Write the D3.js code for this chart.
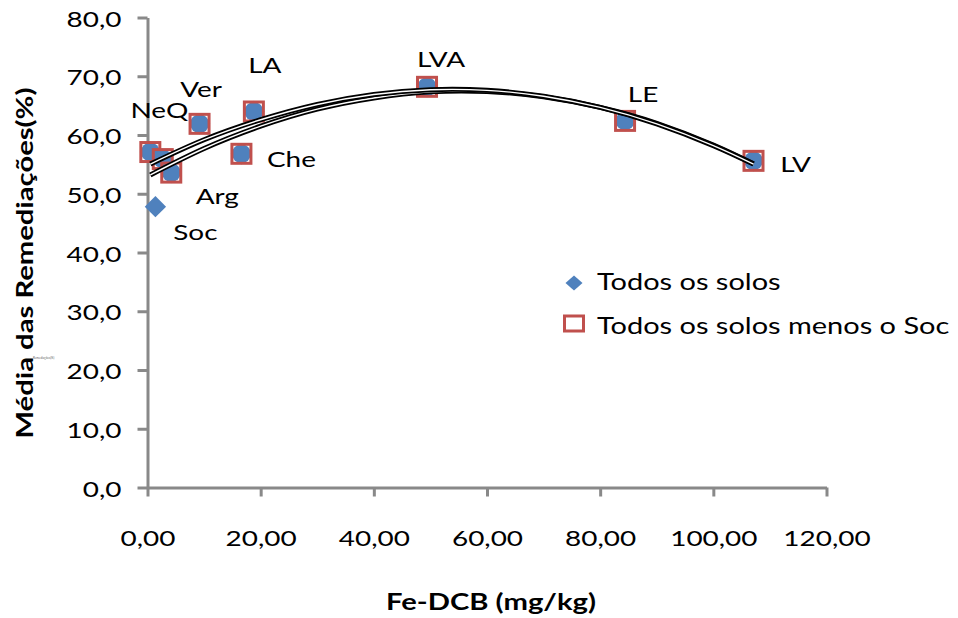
<!DOCTYPE html>
<html>
<head>
<meta charset="utf-8">
<script src="https://cdn.jsdelivr.net/npm/d3@7"></script>
<style>
  body { margin: 0; background: #fff; }
  svg { display: block; font-family: Lato, "Open Sans", sans-serif; }
</style>
</head>
<body>
<svg id="chart" width="958" height="618"></svg>
<script>
// soils, Fe-DCB (mg/kg) and mean remediation (%)
var soilNames  = ["NeQ", "", "Arg", "Ver", "Che", "LA", "Soc", "LVA", "LE", "LV"];
var feDcb      = [0.5, 2.7, 4.2, 9.2, 16.6, 18.8, 1.4, 49.4, 84.4, 107.1];
var mediaRemed = [57.1, 55.9, 53.6, 61.9, 56.8, 64.0, 47.8, 68.2, 62.4, 55.6];

// polynomial trendlines
var trendX      = [0.5, 10, 20, 30, 40, 50, 60, 70, 80, 90, 100, 107.1];
var trendTodos  = [53.2, 57.7, 61.5, 64.4, 66.3, 67.35, 67.4, 66.5, 64.7, 62.0, 58.3, 55.1];
var trendSemSoc = [55.05, 59.2, 62.6, 65.2, 66.9, 67.7, 67.6, 66.6, 64.7, 61.9, 58.2, 55.05];

var xTicks = [0, 20, 40, 60, 80, 100, 120];
var yTicks = [0, 10, 20, 30, 40, 50, 60, 70, 80];
var legendLabels = ["Todos os solos", "Todos os solos menos o Soc"];

// label offsets (px) from each point, excel style
var labelDx = [9, 0, 46, 1.5, 50, 11, 40, 14, 18, 42];
var labelDy = [-42.5, 0, 23, -35.5, 4.5, -47, 25, -29, -28, 2];

var blue = "#4F81BD", red = "#C0504D", axisGrey = "#898989";
var sx = 1.27; // source text is stretched along its baseline

var svg = d3.select("#chart");
var ptBR = d3.formatLocale({ decimal: ",", thousands: ".", grouping: [3], currency: ["R$", ""] });

var x = d3.scaleLinear().domain([0, 120]).range([147.5, 826.5]);
var y = d3.scaleLinear().domain([0, 80]).range([487.5, 17.5]);

// stretch text sideways keeping its anchor point
function stretch(sel) {
  sel.each(function () {
    var t = d3.select(this);
    var tx = +t.attr("x") || 0, ty = +t.attr("y") || 0;
    t.attr("x", 0).attr("y", 0)
      .attr("transform", (t.attr("transform") || "") + " translate(" + tx + "," + ty + ") scale(" + sx + ",1)");
  });
}

// axes
var gx = svg.append("g").attr("transform", "translate(0," + y(0) + ")")
  .call(d3.axisBottom(x).tickValues(xTicks).tickFormat(ptBR.format(".2f")).tickSize(9).tickSizeOuter(0).tickPadding(41));
var gy = svg.append("g").attr("transform", "translate(" + x(0) + ",0)")
  .call(d3.axisLeft(y).tickValues(yTicks).tickFormat(ptBR.format(".1f")).tickSize(10).tickSizeOuter(0).tickPadding(16));

[gx, gy].forEach(function (g) {
  g.select(".domain").attr("stroke", axisGrey).attr("stroke-width", 3);
  g.selectAll(".tick line").attr("stroke", axisGrey).attr("stroke-width", 3);
  g.selectAll(".tick text").attr("fill", "#000").style("font-size", "22px");
  g.attr("font-family", null).attr("font-size", null);
});
gx.selectAll(".tick text").attr("dy", null).attr("dominant-baseline", "central");
gy.selectAll(".tick text").attr("dy", null).attr("dominant-baseline", "central");
stretch(gx.selectAll(".tick text"));
stretch(gy.selectAll(".tick text"));

// axis titles
svg.append("text")
  .attr("x", 491).attr("y", 601)
  .attr("text-anchor", "middle").attr("dominant-baseline", "central")
  .style("font-size", "23px").style("font-weight", "bold")
  .text("Fe-DCB (mg/kg)")
  .call(stretch);

svg.append("text")
  .attr("transform", "translate(24,263) rotate(-90) scale(" + sx + ",1)")
  .attr("text-anchor", "middle").attr("dominant-baseline", "central")
  .style("font-size", "23px").style("font-weight", "bold")
  .text("Média das Remediações(%)");

// tiny leftover label
svg.append("text")
  .attr("x", 33).attr("y", 359)
  .style("font-size", "3px").attr("fill", "#666")
  .text("Remediações(%)");

var idx = d3.range(soilNames.length);
var idxSemSoc = idx.filter(function (i) { return soilNames[i] != "Soc"; });

// series 1: diamonds
var diamond = d3.symbol().type(d3.symbolDiamond2).size(290);
svg.append("g").selectAll("path")
  .data(idx).join("path")
  .attr("d", diamond)
  .attr("transform", function (i) { return "translate(" + x(feDcb[i]) + "," + y(mediaRemed[i]) + ")"; })
  .attr("fill", blue);

// series 2: blue dot inside red square
var s2 = svg.append("g").selectAll("g")
  .data(idxSemSoc).join("g")
  .attr("transform", function (i) { return "translate(" + x(feDcb[i]) + "," + y(mediaRemed[i]) + ")"; });
s2.append("circle").attr("r", 9.5).attr("fill", blue);
s2.append("rect")
  .attr("x", -9.5).attr("y", -9.5).attr("width", 19).attr("height", 19)
  .attr("fill", "none").attr("stroke", red).attr("stroke-width", 3);

// trendlines, double-line look
var line = d3.line()
  .x(function (d) { return x(d[0]); })
  .y(function (d) { return y(d[1]); })
  .curve(d3.curveNatural);

[trendTodos, trendSemSoc].forEach(function (serie) {
  var pts = trendX.map(function (v, i) { return [v, serie[i]]; });
  svg.append("path").attr("d", line(pts))
    .attr("fill", "none").attr("stroke", "#000").attr("stroke-width", 5);
  svg.append("path").attr("d", line(pts))
    .attr("fill", "none").attr("stroke", "#fff").attr("stroke-width", 1.4);
});

// point labels
svg.append("g").selectAll("text")
  .data(idx.filter(function (i) { return soilNames[i] != ""; })).join("text")
  .attr("x", function (i) { return x(feDcb[i]) + labelDx[i]; })
  .attr("y", function (i) { return y(mediaRemed[i]) + labelDy[i]; })
  .attr("text-anchor", "middle").attr("dominant-baseline", "central")
  .style("font-size", "22px")
  .text(function (i) { return soilNames[i]; })
  .call(stretch);

// legend
var lg = svg.append("g");
lg.append("path")
  .attr("d", d3.symbol().type(d3.symbolDiamond2).size(140))
  .attr("transform", "translate(574,283) scale(1.15,1)")
  .attr("fill", blue);
lg.append("rect")
  .attr("x", 564.5).attr("y", 316).attr("width", 19).attr("height", 15)
  .attr("fill", "none").attr("stroke", red).attr("stroke-width", 3);
lg.selectAll("text.leg")
  .data(legendLabels).join("text")
  .attr("class", "leg")
  .attr("x", 597)
  .attr("y", function (d, i) { return 281 + i * 44; })
  .attr("dominant-baseline", "central")
  .style("font-size", "22.8px")
  .text(function (d) { return d; })
  .call(stretch);
</script>
</body>
</html>
